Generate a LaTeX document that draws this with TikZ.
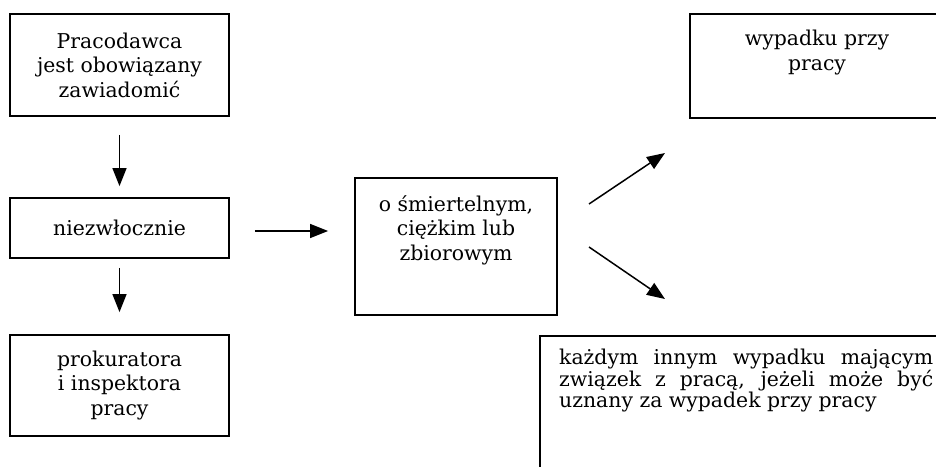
\documentclass[tikz,border=0pt]{standalone}
\usepackage{fontspec}
\setmainfont{DejaVu Serif}
\usetikzlibrary{arrows.meta}
\begin{document}
\begin{tikzpicture}[x=1pt,y=-1pt,
  box/.style={draw, line width=1.8pt, inner sep=0pt},
  arr/.style={line width=1.5pt, -{Triangle[length=18pt,width=14pt]}},
  txt/.style={font=\fontsize{20.4}{24.5}\selectfont, align=center, inner sep=0pt}]
\useasboundingbox (0,0) rectangle (936,466);
\clip (0,0) rectangle (936,466);
\node[box, txt, minimum width=219pt, minimum height=102pt] (b1) at (119.5,65) {Pracodawca\\jest obowiązany\\zawiadomić};
\node[box, txt, minimum width=219pt, minimum height=60pt] (b2) at (119.5,228) {niezwłocznie};
\node[box, txt, minimum width=219pt, minimum height=101pt] (b3) at (119.5,385.5) {prokuratora\\i inspektora\\pracy};
\node[box, minimum width=202pt, minimum height=137pt] (b4) at (456,246.5) {};
\node[txt, anchor=north] (t4) at ([yshift=-18pt]b4.north) {o śmiertelnym,\\ciężkim lub\\zbiorowym};
\node[box, minimum width=254pt, minimum height=104pt] (b5) at (817,66) {};
\node[txt, anchor=north] (t5) at ([yshift=-17pt]b5.north) {wypadku przy\\pracy};
\node[box, minimum width=401pt, minimum height=184pt] (b6) at (740.5,428) {};
\node[anchor=north west, inner sep=0pt, align=left, font=\fontsize{20.4}{21.5}\selectfont] (t6) at (559,349)
  {\makebox[374pt][s]{każdym innym wypadku mającym}\\
   \makebox[374pt][s]{związek z pracą, jeżeli może być}\\
   uznany za wypadek przy pracy};
\coordinate (u0) at (589,204);
\coordinate (u1) at (665,153);
\coordinate (d0) at (589,247);
\coordinate (d1) at (665,299);
\draw[arr, shorten <=18pt, shorten >=11pt] (b1.south) -- (b2.north);
\draw[arr, shorten <=9pt, shorten >=22pt] (b2.south) -- (b3.north);
\draw[arr, shorten <=25pt, shorten >=26pt] (b2.east |- 0,231) -- (b4.west |- 0,231);
\draw[arr] (u0) -- (u1);
\draw[arr] (d0) -- (d1);
\end{tikzpicture}
\end{document}
